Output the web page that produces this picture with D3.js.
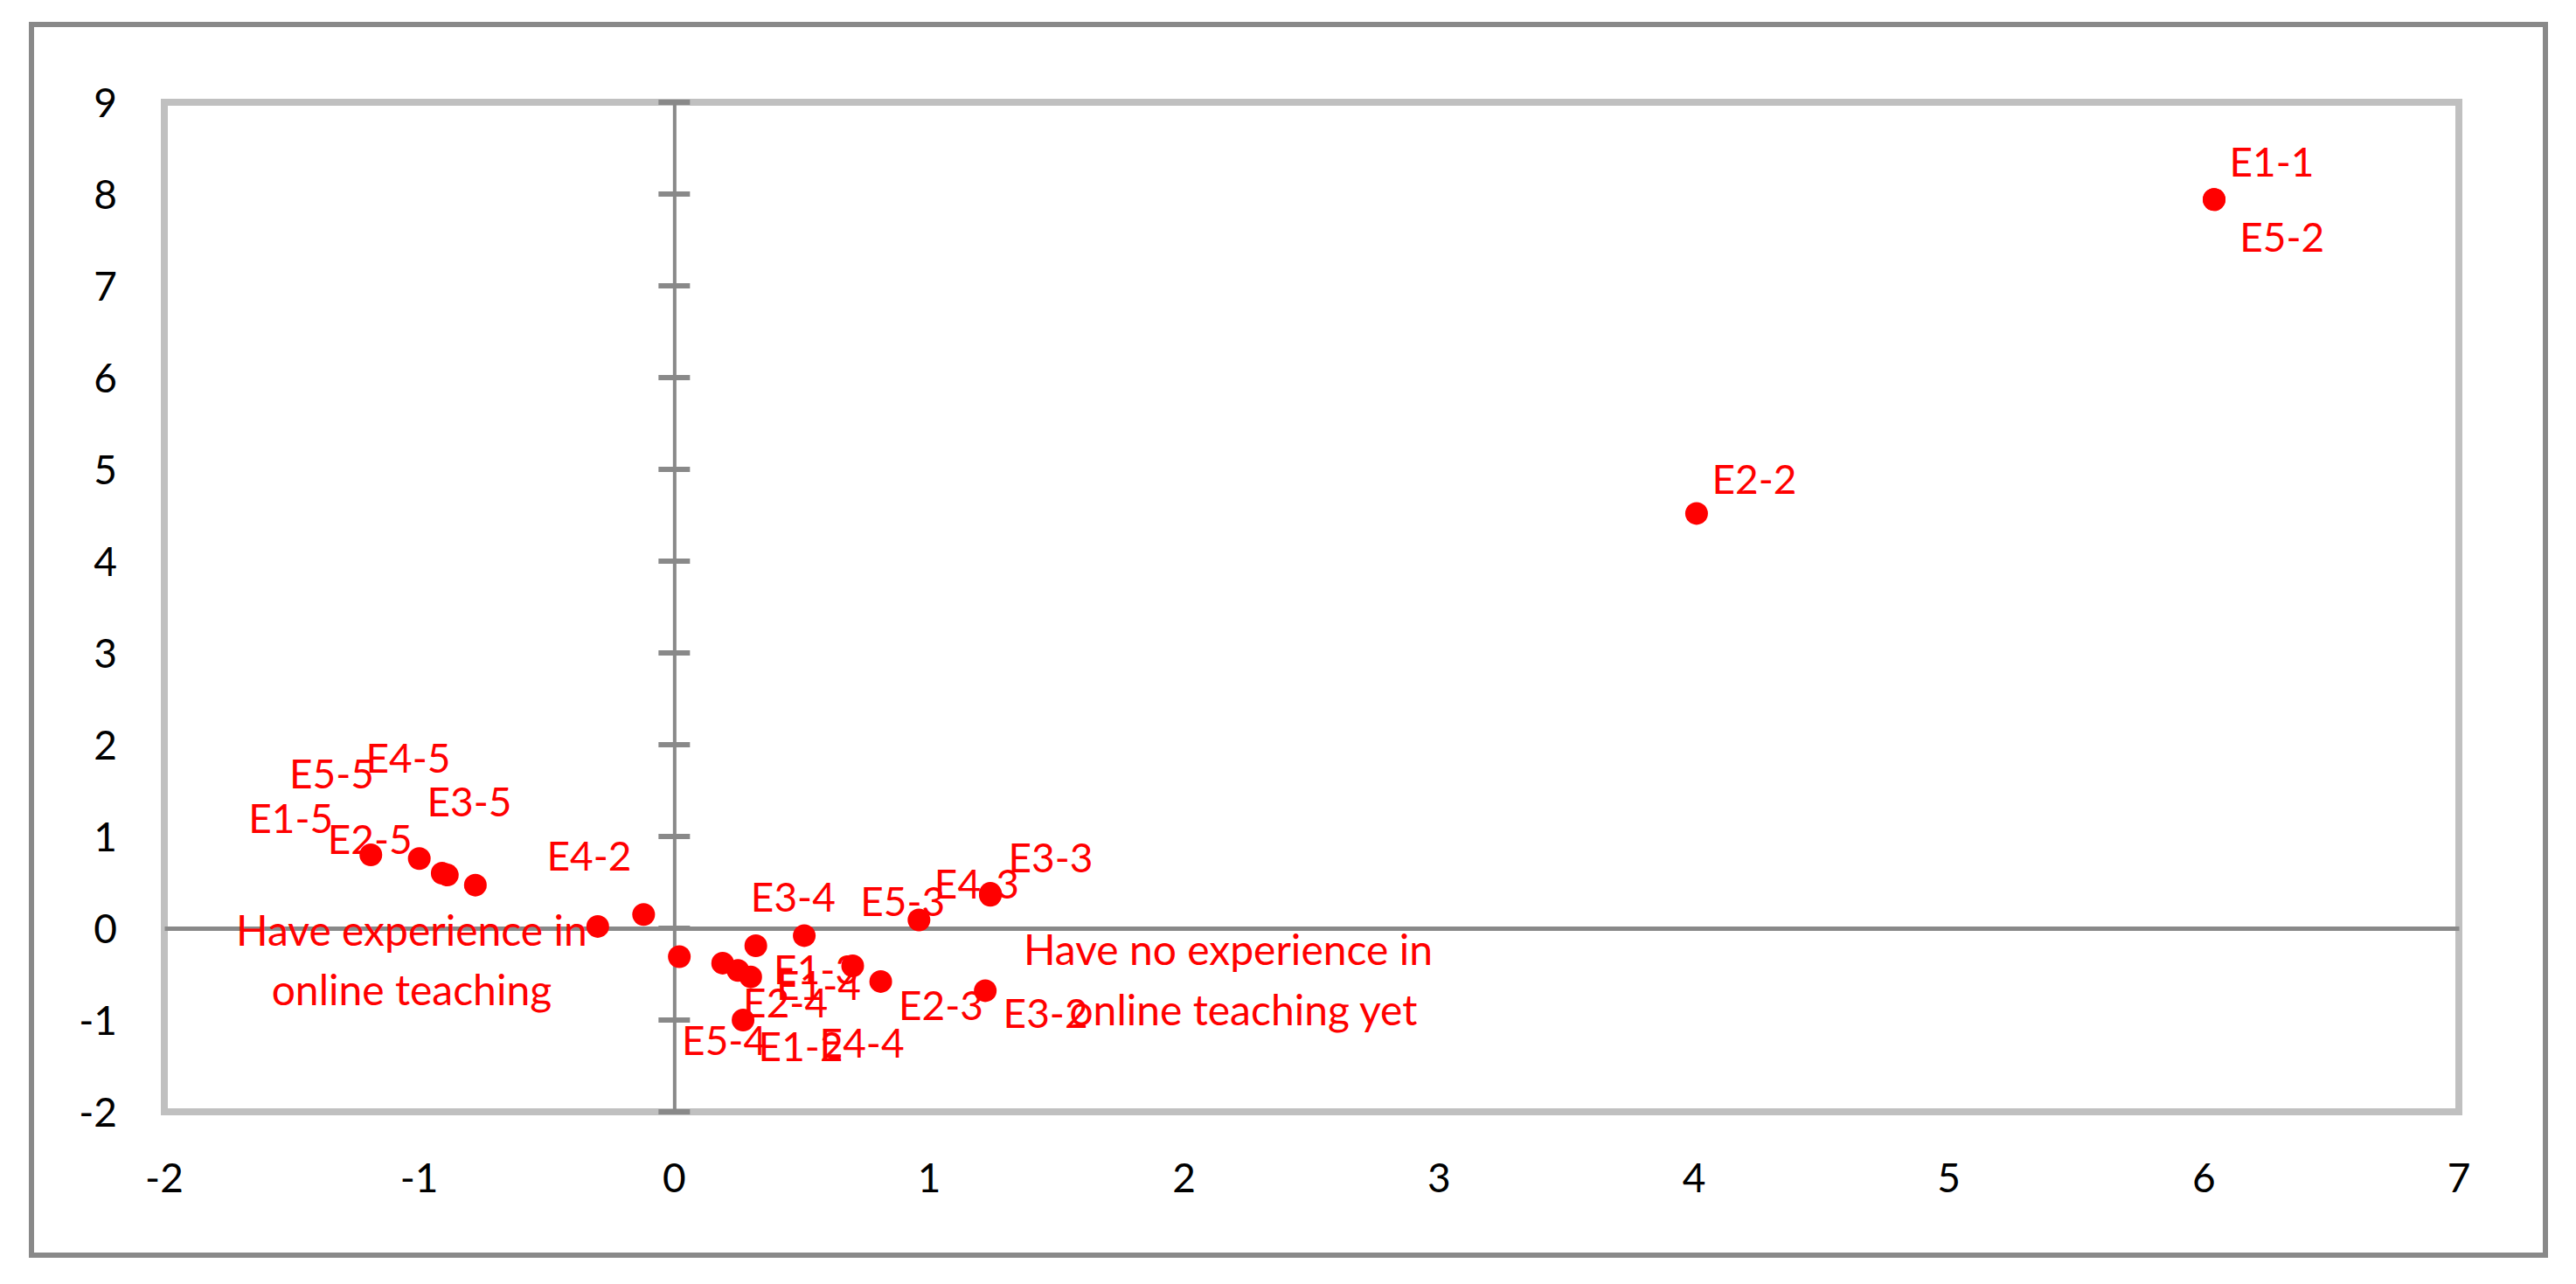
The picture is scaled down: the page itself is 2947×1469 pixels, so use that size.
<!DOCTYPE html>
<html><head><meta charset="utf-8">
<script src="https://cdn.jsdelivr.net/npm/d3@7"></script>
<style>body{margin:0;background:#fff}</style></head>
<body><svg id="c" width="2947" height="1469"></svg>
<script>
const labels = ["E1-1","E5-2","E2-2","E1-5","E2-5","E5-5","E4-5","E3-5","E4-2","","E3-4","E5-3","E4-3","E3-3","","E1-4","E2-4","E1-2","E4-4","E1-3","E2-3","E3-2","E5-4"];
const xs = [6.04,6.04,4.01,-1.19,-1.00,-0.91,-0.89,-0.78,-0.12,-0.30,0.51,0.96,1.24,1.24,0.02,0.32,0.19,0.25,0.30,0.70,0.81,1.22,0.27];
const ys = [7.94,7.94,4.52,0.80,0.76,0.60,0.58,0.47,0.15,0.02,-0.08,0.09,0.36,0.38,-0.31,-0.19,-0.38,-0.46,-0.53,-0.41,-0.58,-0.68,-1.00];
// label anchor positions (data units)
const labX = [6.10,6.14,4.07,-1.67,-1.36,-1.51,-1.21,-0.97,-0.50,0,0.30,0.73,1.02,1.31,0,0.40,0.27,0.33,0.57,0.39,0.88,1.29,0.03];
const labY = [8.35,7.53,4.89,1.20,0.97,1.68,1.85,1.38,0.79,0,0.34,0.29,0.48,0.77,0,-0.62,-0.81,-1.29,-1.25,-0.45,-0.84,-0.93,-1.22];
const xTicks = [-2,-1,0,1,2,3,4,5,6,7];
const yTicks = [-2,-1,0,1,2,3,4,5,6,7,8,9];
const notes = [
  {t:"Have experience in", x:-1.03, y:-0.03},
  {t:"online teaching", x:-1.03, y:-0.67},
  {t:"Have no experience in", x:1.37, y:-0.24},
  {t:"online teaching yet", x:1.55, y:-0.89}
];
const svg = d3.select("#c");
const L=188,R=2813,T=117,B=1272;
const x = d3.scaleLinear().domain([-2,7]).range([L,R]);
const y = d3.scaleLinear().domain([-2,9]).range([B,T]);
const font = "Lato,'Open Sans',sans-serif";
svg.append("rect").attr("x",36).attr("y",28).attr("width",2876).attr("height",1408)
  .attr("fill","none").attr("stroke","#898989").attr("stroke-width",6);
svg.append("rect").attr("x",L).attr("y",T).attr("width",R-L).attr("height",B-T)
  .attr("fill","none").attr("stroke","#c0c0c0").attr("stroke-width",8);
const ax = svg.append("g").attr("transform",`translate(0,${y(0)})`)
  .call(d3.axisBottom(x).tickValues(xTicks).tickSize(0).tickFormat(""));
ax.select(".domain").attr("stroke","#898989").attr("stroke-width",5);
const ay = svg.append("g").attr("transform",`translate(${x(0)},0)`)
  .call(d3.axisLeft(y).tickValues(yTicks).tickSize(0).tickFormat(""));
ay.select(".domain").attr("stroke","#898989").attr("stroke-width",4);
svg.append("g").selectAll("line").data(yTicks).join("line")
  .attr("x1",x(0)-18).attr("x2",x(0)+18).attr("y1",d=>y(d)).attr("y2",d=>y(d))
  .attr("stroke","#898989").attr("stroke-width",6);
svg.append("g").selectAll("text").data(yTicks).join("text")
  .attr("x",134).attr("y",d=>y(d)).attr("dy","0.36em").attr("text-anchor","end")
  .attr("font-family",font).attr("font-size",46).text(d=>d);
svg.append("g").selectAll("text").data(xTicks).join("text")
  .attr("x",d=>x(d)).attr("y",1364).attr("text-anchor","middle")
  .attr("font-family",font).attr("font-size",46).text(d=>d);
svg.append("g").selectAll("circle").data(xs).join("circle")
  .attr("cx",(d)=>x(d)).attr("cy",(d,i)=>y(ys[i])).attr("r",13).attr("fill","#ff0000");
svg.append("g").selectAll("text").data(labels).join("text")
  .attr("x",(d,i)=>x(labX[i])).attr("y",(d,i)=>y(labY[i])).attr("dy","0.36em")
  .attr("font-family",font).attr("font-size",46).attr("fill","#ff0000").text(d=>d);
svg.append("g").selectAll("text").data(notes).join("text")
  .attr("x",d=>x(d.x)).attr("y",d=>y(d.y)).attr("dy","0.36em")
  .attr("text-anchor",(d,i)=>i<2?"middle":"start")
  .attr("font-family",font).attr("font-size",48).attr("fill","#ff0000").text(d=>d.t);
</script></body></html>
